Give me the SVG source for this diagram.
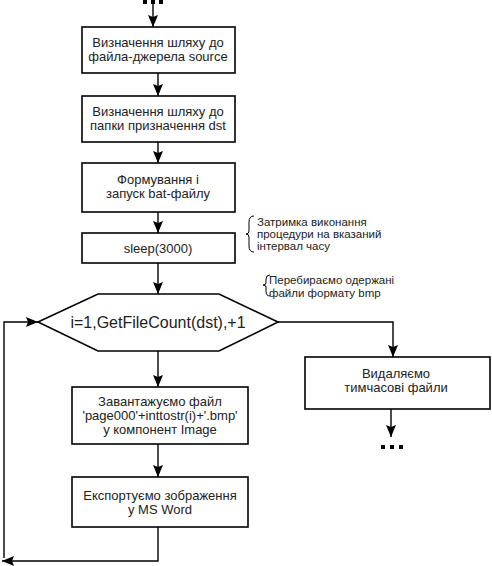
<svg xmlns="http://www.w3.org/2000/svg" width="492" height="566" viewBox="0 0 492 566">
<style>
.box{fill:#fff;stroke:#000;stroke-width:1.6}
.t{font-family:"Liberation Sans",Arial,sans-serif;font-size:13px;text-anchor:middle;fill:#222}
.n{font-family:"Liberation Sans",Arial,sans-serif;font-size:11.5px;fill:#222}
.c{fill:none;stroke:#000;stroke-width:1.4}
.br{fill:none;stroke:#000;stroke-width:1}
.dot{fill:#000}
</style>
<defs>
<marker id="ah" viewBox="0 0 12 10" refX="12" refY="5" markerWidth="12" markerHeight="10" markerUnits="userSpaceOnUse" orient="auto"><path d="M0,0 L12,5 L0,10 L2,5 z" fill="#000"/></marker>
</defs>
<g id="connectors">
<path class="c" d="M153,4 V27" marker-end="url(#ah)"/>
<path class="c" d="M158,73 V96" marker-end="url(#ah)"/>
<path class="c" d="M158,142 V163" marker-end="url(#ah)"/>
<path class="c" d="M158,212 V233" marker-end="url(#ah)"/>
<path class="c" d="M158,263 V294" marker-end="url(#ah)"/>
<path class="c" d="M158,351 V387" marker-end="url(#ah)"/>
<path class="c" d="M158,444 V477" marker-end="url(#ah)"/>
<path class="c" d="M158,527 V561 H2" marker-end="url(#ah)"/>
<path class="c" d="M4,558 V322 H38" marker-end="url(#ah)"/>
<path class="c" d="M278,322 H393 V357" marker-end="url(#ah)"/>
<path class="c" d="M391,409 V437" marker-end="url(#ah)"/>
</g>
<g id="dots-top">
<rect class="dot" x="143" y="0" width="4" height="4"/>
<rect class="dot" x="151" y="0" width="4" height="4"/>
<rect class="dot" x="159" y="0" width="4" height="4"/>
</g>
<g id="n1">
<rect class="box" x="82" y="27" width="153" height="46"/>
<text class="t" x="158" y="47">Визначення шляху до</text>
<text class="t" x="158" y="61">файла-джерела source</text>
</g>
<g id="n2">
<rect class="box" x="82" y="96" width="153" height="46"/>
<text class="t" x="158" y="116">Визначення шляху до</text>
<text class="t" x="158" y="130">папки призначення dst</text>
</g>
<g id="n3">
<rect class="box" x="82" y="163" width="153" height="49"/>
<text class="t" x="158" y="184">Формування і</text>
<text class="t" x="158" y="198">запуск bat-файлу</text>
</g>
<g id="n4">
<rect class="box" x="82" y="233" width="153" height="30"/>
<text class="t" x="158" y="253">sleep(3000)</text>
</g>
<g id="note1">
<path class="br" d="M254,216 Q249,216 249,222 V231 Q249,234 246,234 Q249,234 249,237 V246 Q249,252 254,252"/>
<text class="n" x="257" y="226">Затримка виконання</text>
<text class="n" x="257" y="238">процедури на вказаний</text>
<text class="n" x="257" y="250">інтервал часу</text>
</g>
<g id="note2">
<path class="br" d="M270,275 Q266,275 266,279 V283 Q266,285 263,285 Q266,285 266,287 V291 Q266,296 270,296"/>
<text class="n" x="269" y="284">Перебираємо одержані</text>
<text class="n" x="269" y="297">файли формату bmp</text>
</g>
<g id="loop">
<polygon class="box" points="38,322 98,294 219,294 278,322 219,351 98,351"/>
<text class="t" style="font-size:16px" x="158" y="328">i=1,GetFileCount(dst),+1</text>
</g>
<g id="n5">
<rect class="box" x="72" y="387" width="176" height="57"/>
<text class="t" x="160" y="406">Завантажуємо файл</text>
<text class="t" x="160" y="420">'page000'+inttostr(i)+'.bmp'</text>
<text class="t" x="160" y="434">у компонент Image</text>
</g>
<g id="n6">
<rect class="box" x="72" y="477" width="176" height="50"/>
<text class="t" x="160" y="500">Експортуємо зображення</text>
<text class="t" x="160" y="514">у MS Word</text>
</g>
<g id="n7">
<rect class="box" x="305" y="357" width="185" height="52"/>
<text class="t" x="396" y="378">Видаляємо</text>
<text class="t" x="396" y="392">тимчасові файли</text>
</g>
<g id="dots-bottom">
<rect class="dot" x="381" y="445" width="4" height="4"/>
<rect class="dot" x="390" y="445" width="4" height="4"/>
<rect class="dot" x="399" y="445" width="4" height="4"/>
</g>
</svg>
